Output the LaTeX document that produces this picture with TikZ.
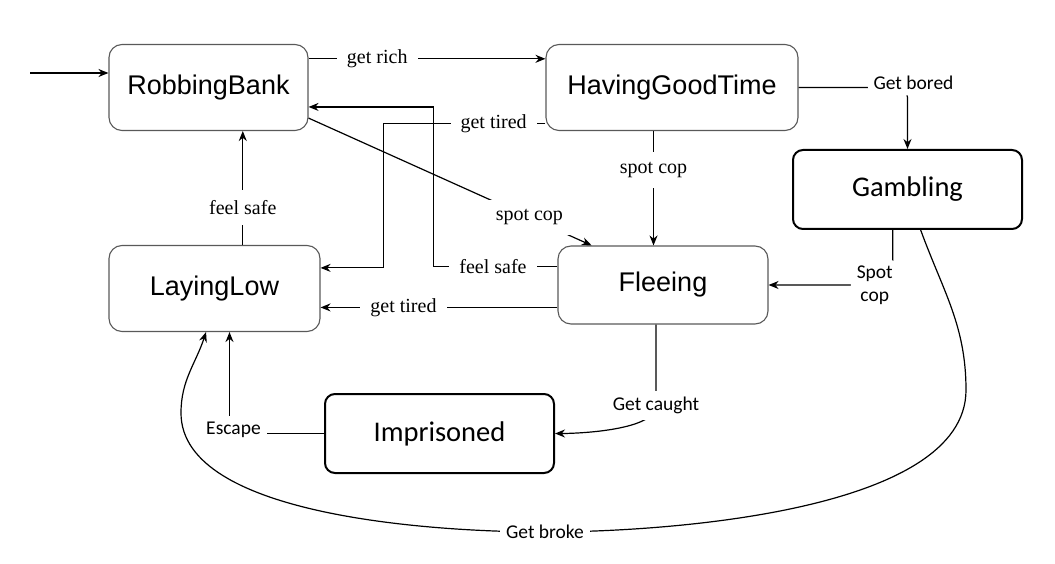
\documentclass[tikz,border=0pt]{standalone}
\usepackage{fontspec}
\setmainfont{Liberation Serif}
\newfontfamily\arialfont{Liberation Sans}
\newfontfamily\calibrifont{Carlito}
\usetikzlibrary{positioning, arrows.meta}
\tikzstyle{oldstate} = [rectangle, rounded corners=13pt, minimum height=86pt, draw=black!65, line width=1.1pt, font=\arialfont\fontsize{27}{32}\selectfont]
\tikzstyle{newstate} = [rectangle, rounded corners=10pt, minimum width=229pt, minimum height=79pt, draw=black, line width=2pt, font=\calibrifont\fontsize{28.5}{34}\selectfont]
\tikzstyle{oldlabel} = [fill=white, inner sep=10pt, font=\fontsize{20}{24}\selectfont]
\tikzstyle{newlabel} = [fill=white, inner sep=6pt, align=center, font=\calibrifont\fontsize{19.5}{23}\selectfont]
\tikzstyle{arrow} = [line width=1.2pt, ->, >={Stealth[length=10pt,width=8pt]}]
\begin{document}
\begin{tikzpicture}[x=1pt, y=1pt, node distance=200pt]
\useasboundingbox (0,0) rectangle (1055,563);

	\node (robbingBank) [oldstate, minimum width=199pt] at (208.5,475.5) {RobbingBank};
	\node (havingGoodTime) [oldstate, minimum width=252pt, right of=robbingBank, xshift=263.5pt] {HavingGoodTime};

	\node (layingLow) [oldstate, minimum width=211pt, below of=robbingBank, xshift=6pt, yshift=-1pt] {LayingLow};
	\node (fleeing) [oldstate, minimum width=210pt, minimum height=78pt, below of=havingGoodTime, xshift=-9pt, yshift=2.5pt] {Fleeing};

	\node (gambling) [newstate, right of=havingGoodTime, xshift=35.5pt, yshift=-102pt] {Gambling};
	\node (imprisoned) [newstate, below of=layingLow, xshift=225pt, yshift=55pt] {Imprisoned};

	\coordinate (start) at (30,490);

	\draw [arrow] (start) -- (start -| robbingBank.west);
	\draw [arrow] (robbingBank.16.5) -- node[oldlabel, pos=0.29]{get rich} (robbingBank.16.5 -| havingGoodTime.west);

	\draw [arrow] (havingGoodTime.196) -- node[oldlabel, pos=0.32]{get tired} ++(-162,0) |- (layingLow.11.5);
	\draw [arrow] (fleeing.170.3) -- node[oldlabel, pos=0.52]{feel safe} ++(-124,0) |- (robbingBank.349.5);

	\draw [arrow] (layingLow.57) -- node[oldlabel, pos=0.33]{feel safe} (layingLow.57 |- robbingBank.south);
	\draw [arrow] (robbingBank.343.5) -- node[oldlabel, pos=0.78]{spot cop} (fleeing.151);
	\draw [arrow] (havingGoodTime.247) -- node[oldlabel, pos=0.34]{spot cop} (havingGoodTime.247 |- fleeing.north);
	\draw [arrow] (fleeing.192.4) -- node[oldlabel, pos=0.65]{get tired} (fleeing.192.4 -| layingLow.east);

	\draw [arrow, rounded corners=10pt] (havingGoodTime.east) -| node[newlabel, pos=0.5, xshift=6pt, yshift=5pt]{Get bored} (gambling.north);
	\draw [arrow, rounded corners=10pt] (gambling.250) |- node[newlabel, pos=0.5, xshift=-18pt]{Spot\\cop} (fleeing.east);

	\draw [arrow] (fleeing.260) -- ++(0,-81) node[newlabel]{Get caught} to[out=-90, in=0, looseness=0.6] (imprisoned.east);
	\draw [arrow] (imprisoned.west) -| node[newlabel, pos=0.5, xshift=4pt, yshift=4pt]{Escape} (layingLow.289);

	\draw [arrow] (gambling.288) to[out=-70, in=90] (966,173) to[out=-90, in=0, looseness=0.7] (545,31) node[newlabel]{Get broke} to[out=180, in=-90, looseness=0.7] (181,150) to[out=90, in=252] (layingLow.259);

\end{tikzpicture}
\end{document}
